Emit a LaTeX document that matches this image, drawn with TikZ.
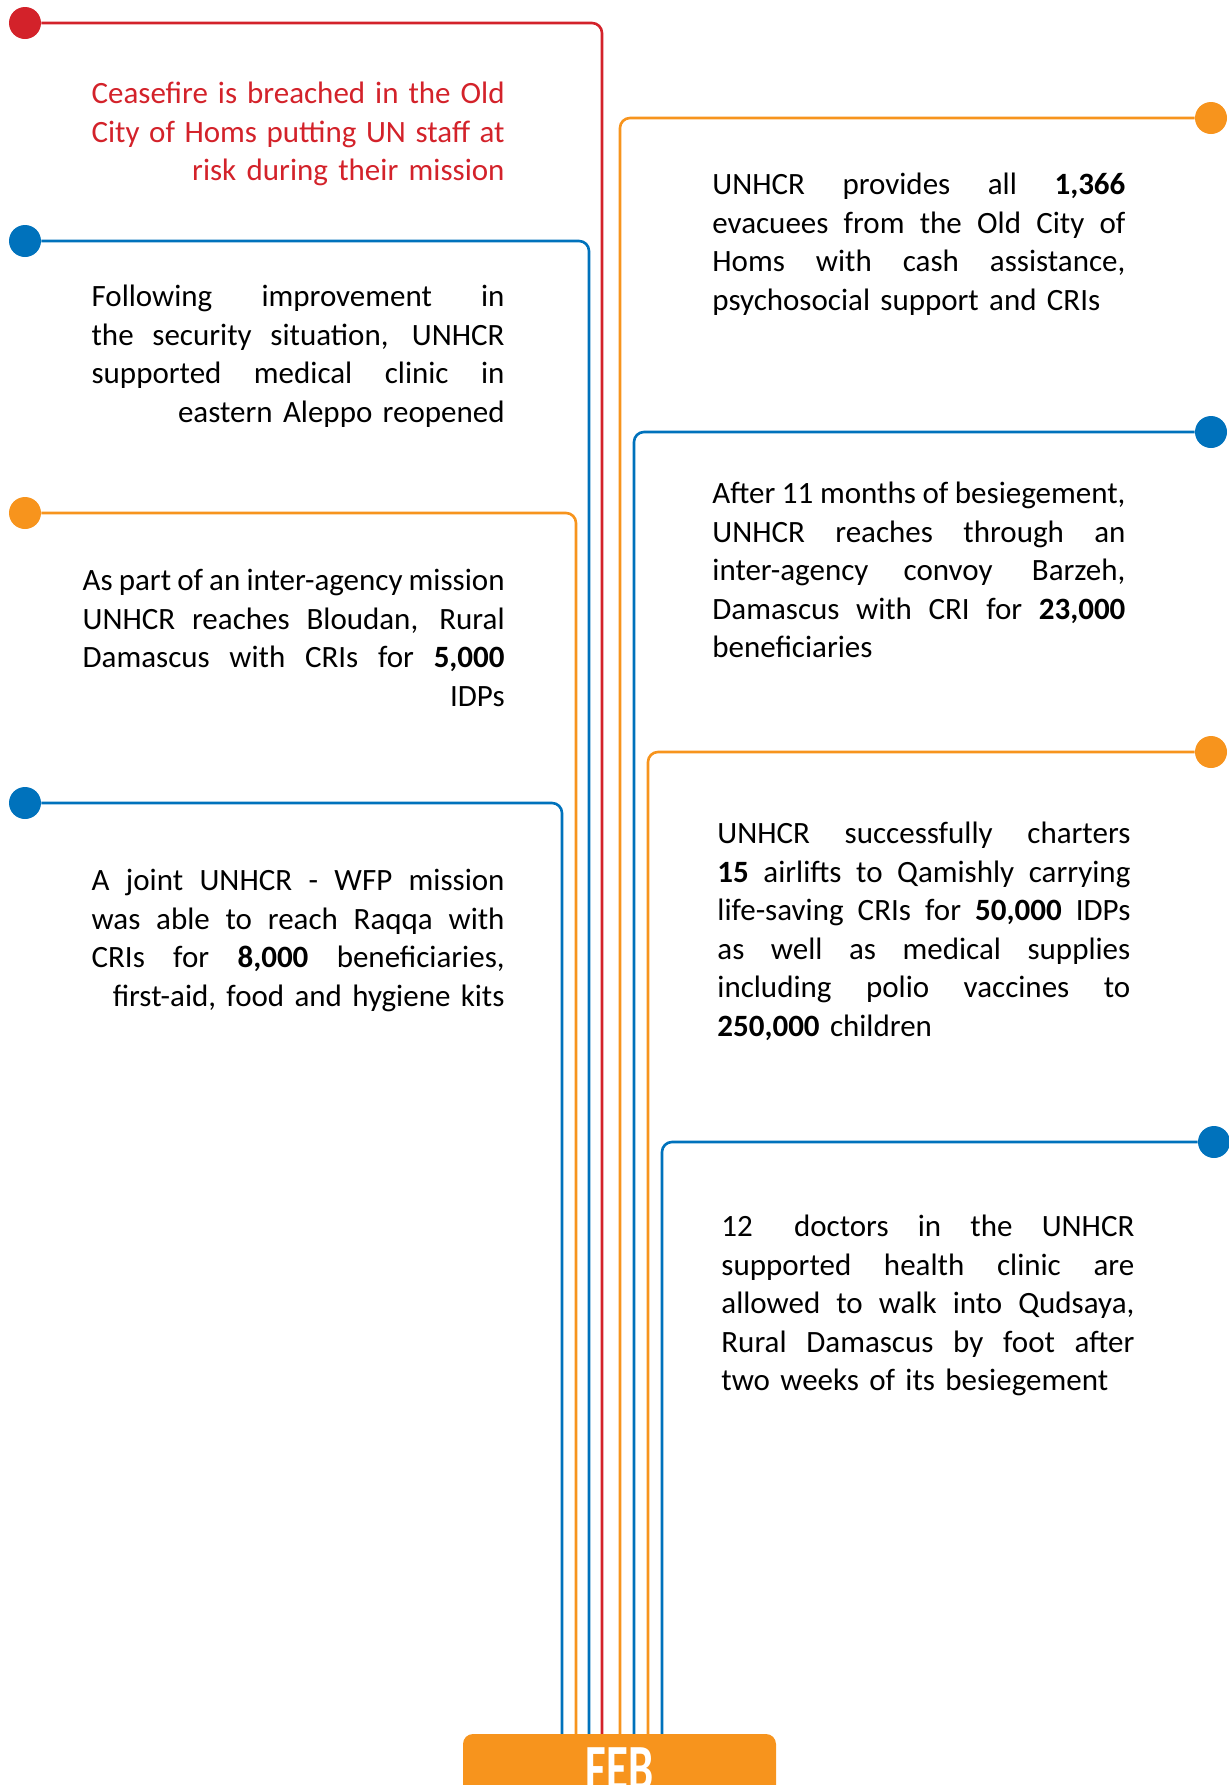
\documentclass[tikz,border=0pt]{standalone}
\usepackage{fontspec}
\setmainfont{Carlito}
\definecolor{ured}{HTML}{D3222A}
\definecolor{ublue}{HTML}{0072BC}
\definecolor{uorange}{HTML}{F7941D}
\newcommand{\jl}[1]{\leavevmode\hbox to \hsize{\spaceskip=0pt plus 1fil\relax #1}\\}

\begin{document}
\begin{tikzpicture}[x=0.5pt, y=-0.5pt,
  dot/.style={circle, inner sep=0pt, minimum size=16pt},
  tl/.style={line width=1.3pt, rounded corners=5pt},
  txt/.style={inner sep=0pt, text width=206.5pt, font=\fontsize{15.5}{19.25}\selectfont}]
\clip (0,0) rectangle (1229,1785);
\foreach \n/\c/\y/\x in {1/ured/23/602, 2/ublue/241/589, 3/uorange/513/576, 4/ublue/803/562}{
	\node[dot, fill=\c] (l\n) at (25,\y) {};
	\coordinate (lb\n) at (\x,1745);
	\draw[tl, \c] (l\n) -| (lb\n);
}
\foreach \n/\c/\y/\x/\d in {5/uorange/118/620/1211, 6/ublue/432/634/1211, 7/uorange/752/648/1211, 8/ublue/1142/662/1214}{
	\node[dot, fill=\c] (r\n) at (\d,\y) {};
	\coordinate (rb\n) at (\x,1745);
	\draw[tl, \c] (r\n) -| (rb\n);
}
\node[txt, text=ured, align=right, anchor=north east] (t1) at (505,82) {\jl{Ceasefire is breached in the Old}\jl{City of Homs putting UN staff at}risk during their mission};
\node[txt, align=right, anchor=north east] (t2) at (505,285) {\jl{Following improvement in}\jl{the security situation, UNHCR}\jl{supported medical clinic in}eastern Aleppo reopened};
\node[txt, text width=211pt, align=right, anchor=north east] (t3) at (505,569) {\jl{As part of an inter-agency mission}\jl{UNHCR reaches Bloudan, Rural}\jl{Damascus with CRIs for \textbf{5,000}}IDPs};
\node[txt, align=right, anchor=north east] (t4) at (505,869) {\jl{A joint UNHCR - WFP mission}\jl{was able to reach Raqqa with}\jl{CRIs for \textbf{8,000} beneficiaries,}first-aid, food and hygiene kits};
\node[txt, align=left, anchor=north west] (t5) at (712,173) {\jl{UNHCR provides all \textbf{1,366}}\jl{evacuees from the Old City of}\jl{Homs with cash assistance,}psychosocial support and CRIs};
\node[txt, align=left, anchor=north west] (t6) at (712,482) {\jl{After 11 months of besiegement,}\jl{UNHCR reaches through an}\jl{inter-agency convoy\hskip 2pt plus 1fil\relax Barzeh,}\jl{Damascus with CRI for \textbf{23,000}}beneficiaries};
\node[txt, align=left, anchor=north west] (t7) at (717,822) {\jl{UNHCR successfully charters}\jl{\textbf{15} airlifts to Qamishly carrying}\jl{life-saving CRIs for \textbf{50,000} IDPs}\jl{as well as medical supplies}\jl{including polio vaccines to}\textbf{250,000} children};
\node[txt, align=left, anchor=north west] (t8) at (721,1215) {\jl{12\hskip 6pt plus 1fil\relax doctors in the UNHCR}\jl{supported health clinic are}\jl{allowed to walk into Qudsaya,}\jl{Rural Damascus by foot after}two weeks of its besiegement};
\node[fill=uorange, rounded corners=5pt, minimum width=156.5pt, minimum height=35pt, inner sep=0pt, text=white, font=\bfseries\fontsize{33}{33}\selectfont] (feb) at (619.5,1769) {\scalebox{0.68}[1]{FEB}};
\end{tikzpicture}
\end{document}
